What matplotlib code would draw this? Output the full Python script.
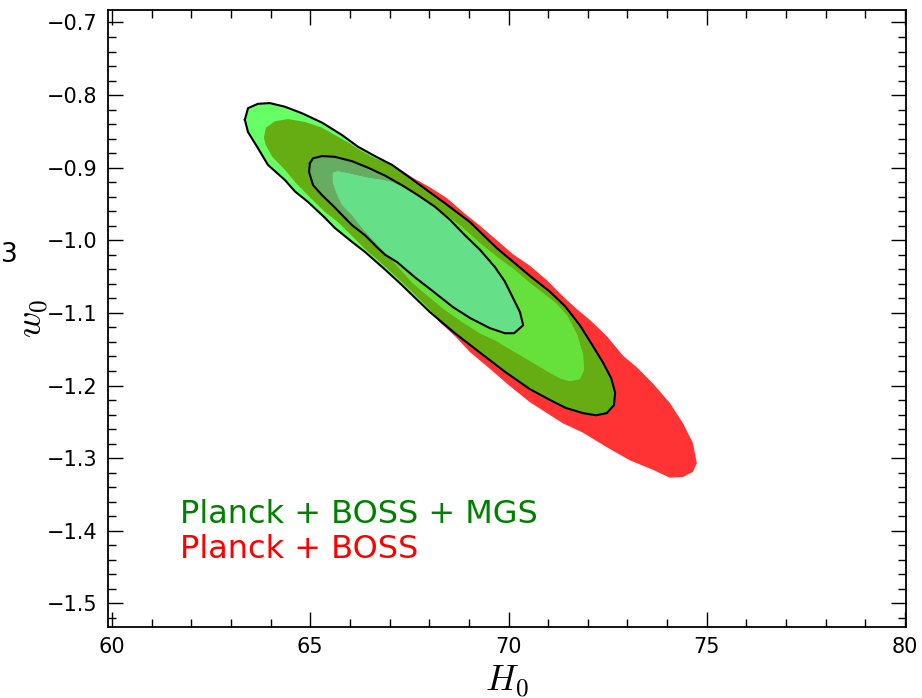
import numpy as np
import matplotlib
matplotlib.use("Agg")
import matplotlib.pyplot as plt
from matplotlib.path import Path
from matplotlib.patches import PathPatch
from matplotlib.ticker import MultipleLocator

plt.rcParams['mathtext.fontset'] = 'cm'
plt.rcParams['font.family'] = 'DejaVu Sans'

# contour outlines, (H0, w0) pairs
# Planck + BOSS: 95% and 68% regions
boss_2sig = [(63.83, -0.859), (63.88, -0.845), (64.11, -0.836), (64.44, -0.833), (64.87, -0.837),
             (65.30, -0.845), (65.62, -0.855), (65.95, -0.865), (66.26, -0.876), (66.63, -0.887),
             (67.06, -0.895), (67.59, -0.914), (68.02, -0.927), (68.45, -0.942), (68.85, -0.961),
             (69.28, -0.980), (69.71, -1.000), (70.11, -1.019), (70.54, -1.035), (70.97, -1.055),
             (71.37, -1.077), (71.73, -1.095), (72.06, -1.110), (72.48, -1.132), (72.89, -1.159),
             (73.24, -1.175), (73.64, -1.197), (74.07, -1.224), (74.40, -1.252), (74.65, -1.279),
             (74.75, -1.307), (74.65, -1.319), (74.40, -1.326), (74.07, -1.327), (73.64, -1.316),
             (73.06, -1.303), (72.48, -1.285), (71.88, -1.265), (71.37, -1.252), (70.97, -1.238),
             (70.54, -1.223), (70.04, -1.201), (69.53, -1.177), (69.03, -1.154), (68.65, -1.132),
             (68.27, -1.113), (68.02, -1.096), (67.64, -1.075), (67.26, -1.055), (66.84, -1.034),
             (66.38, -1.012), (66.05, -0.994), (65.70, -0.975), (65.37, -0.961), (64.94, -0.938),
             (64.62, -0.920), (64.36, -0.903), (64.04, -0.885), (63.88, -0.869)]

boss_1sig = [(65.57, -0.907), (65.70, -0.905), (66.05, -0.909), (66.46, -0.914), (66.81, -0.917),
             (67.06, -0.920), (67.52, -0.932), (68.02, -0.950), (68.40, -0.964), (68.85, -0.983),
             (69.28, -1.004), (69.71, -1.023), (70.16, -1.041), (70.54, -1.059), (70.92, -1.075),
             (71.22, -1.088), (71.48, -1.104), (71.73, -1.130), (71.88, -1.158), (71.90, -1.179),
             (71.80, -1.191), (71.55, -1.194), (71.30, -1.190), (70.97, -1.180), (70.54, -1.166),
             (70.04, -1.150), (69.71, -1.139), (69.28, -1.128), (68.85, -1.113), (68.40, -1.096),
             (68.02, -1.079), (67.59, -1.059), (67.19, -1.035), (66.89, -1.017), (66.63, -1.002),
             (66.31, -0.983), (66.05, -0.965), (65.80, -0.951), (65.65, -0.933), (65.57, -0.920)]

# Planck + BOSS + MGS: 95% and 68% regions
mgs_2sig = [(63.35, -0.834), (63.43, -0.818), (63.68, -0.812), (63.98, -0.811), (64.36, -0.816),
            (64.79, -0.825), (65.30, -0.838), (65.80, -0.855), (66.20, -0.871), (66.63, -0.884),
            (67.06, -0.896), (67.52, -0.914), (67.97, -0.932), (68.40, -0.949), (69.03, -0.975),
            (69.71, -1.011), (70.54, -1.049), (71.05, -1.071), (71.43, -1.091), (71.80, -1.117),
            (72.11, -1.144), (72.38, -1.168), (72.59, -1.190), (72.69, -1.210), (72.66, -1.227),
            (72.48, -1.238), (72.21, -1.241), (71.88, -1.238), (71.45, -1.231), (71.05, -1.220),
            (70.54, -1.205), (69.91, -1.181), (69.36, -1.158), (68.65, -1.128), (68.02, -1.099),
            (67.64, -1.079), (67.26, -1.059), (66.84, -1.038), (66.38, -1.016), (66.05, -1.002),
            (65.62, -0.983), (65.37, -0.969), (64.94, -0.947), (64.62, -0.933), (64.36, -0.917),
            (63.93, -0.896), (63.68, -0.873), (63.43, -0.851)]

mgs_1sig = [(64.99, -0.894), (65.07, -0.887), (65.30, -0.884), (65.62, -0.885), (66.05, -0.891),
            (66.46, -0.900), (66.89, -0.911), (67.31, -0.924), (67.72, -0.938), (68.15, -0.954),
            (68.53, -0.972), (68.90, -0.993), (69.28, -1.013), (69.66, -1.037), (69.91, -1.057),
            (70.11, -1.079), (70.29, -1.099), (70.37, -1.117), (70.14, -1.128), (69.91, -1.128),
            (69.53, -1.121), (69.03, -1.107), (68.60, -1.092), (68.02, -1.067), (67.64, -1.051),
            (67.19, -1.030), (66.89, -1.020), (66.71, -1.011), (66.38, -0.993), (66.05, -0.979),
            (65.80, -0.965), (65.55, -0.951), (65.30, -0.938), (65.07, -0.924), (64.97, -0.906)]

labels = ['Planck + BOSS + MGS', 'Planck + BOSS']
label_colors = ['green', 'red']


def ring(pts, ccw):
    a = np.array(pts, dtype=float)
    x, y = a[:, 0], a[:, 1]
    area = 0.5 * np.sum(x * np.roll(y, -1) - np.roll(x, -1) * y)
    if (area > 0) != ccw:
        a = a[::-1]
    return a


def band(outer, inner=None):
    verts, codes = [], []
    for pts, ccw in [(outer, True), (inner, False)]:
        if pts is None:
            continue
        a = ring(pts, ccw)
        verts += list(a) + [a[0]]
        codes += [Path.MOVETO] + [Path.LINETO] * (len(a) - 1) + [Path.CLOSEPOLY]
    return Path(verts, codes)


fig = plt.figure(figsize=(9.22, 6.98), dpi=100)
ax = fig.add_axes([107.5 / 922, 1 - 627 / 698, 798 / 922, 617 / 698])

# filled regions: red set underneath, green set on top, both translucent
ax.add_patch(PathPatch(band(boss_2sig, boss_1sig), facecolor=(1, 0, 0, 0.8), edgecolor='none', zorder=1))
ax.add_patch(PathPatch(band(boss_1sig), facecolor=(1, 160 / 255, 122 / 255, 0.8), edgecolor='none', zorder=1))
ax.add_patch(PathPatch(band(mgs_2sig, mgs_1sig), facecolor=(0, 1, 0, 0.6), edgecolor='none', zorder=2))
ax.add_patch(PathPatch(band(mgs_1sig), facecolor=(0, 1, 0.5, 0.6), edgecolor='none', zorder=2))

for c in [mgs_2sig, mgs_1sig]:
    a = np.array(c + [c[0]])
    ax.plot(a[:, 0], a[:, 1], color='black', lw=1.5, zorder=3)

ax.text(61.71, -1.389, labels[0], color=label_colors[0], fontsize=23, va='baseline')
ax.text(61.71, -1.438, labels[1], color=label_colors[1], fontsize=23, va='baseline')

ax.set_xlim(59.886, 80.013)
ax.set_ylim(-1.5326, -0.6828)
ax.xaxis.set_major_locator(MultipleLocator(5))
ax.xaxis.set_minor_locator(MultipleLocator(1))
ax.yaxis.set_major_locator(MultipleLocator(0.1))
ax.yaxis.set_minor_locator(MultipleLocator(0.02))
ax.tick_params(which='both', direction='in', top=True, right=True, labelsize=15, pad=7)
ax.tick_params(which='major', length=11, width=1)
ax.tick_params(which='minor', length=6, width=1)
for s in ax.spines.values():
    s.set_linewidth(1.3)

ax.set_xlabel(r'$H_0$', fontsize=26, labelpad=5)
ax.set_ylabel(r'$w_0$', fontsize=26, labelpad=-3)

fig.text(1 / 922, 1 - 255 / 698, '3', fontsize=19, ha='left', va='center')

fig.savefig('out.png', dpi=100)
